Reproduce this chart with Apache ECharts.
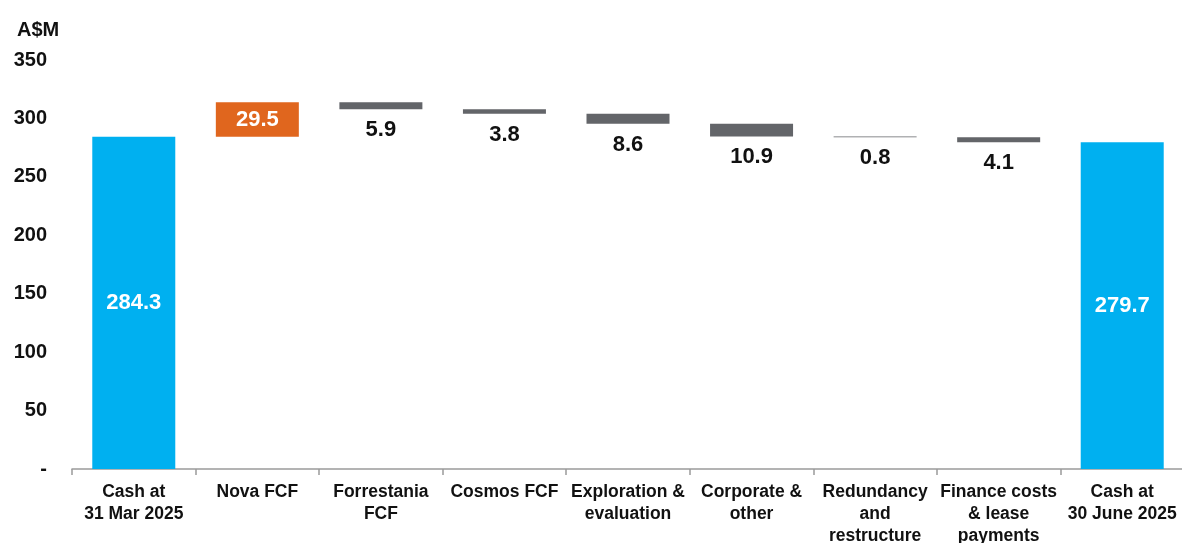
<!DOCTYPE html>
<html>
<head>
<meta charset="utf-8">
<script src="https://cdn.jsdelivr.net/npm/echarts@6/dist/echarts.min.js"></script>
<style>
html,body{margin:0;padding:0;background:#fff;}
#chart{width:1182px;height:543px;}
</style>
</head>
<body>
<div id="chart"></div>
<script>
const categories = ["Cash at\n31 Mar 2025", "Nova FCF", "Forrestania\nFCF", "Cosmos FCF", "Exploration &\nevaluation", "Corporate &\nother", "Redundancy\nand\nrestructure", "Finance costs\n& lease\npayments", "Cash at\n30 June 2025"];
const startCash = 284.3;
const changes = [29.5, -5.9, -3.8, -8.6, -10.9, -0.8, -4.1];
const endCash = 279.7;
const yTicks = [0, 50, 100, 150, 200, 250, 300, 350];

const BLUE = '#00B0F0', ORANGE = '#E0661E', GREY = '#636569';

// build waterfall
const base = [0];
const vis = [];
let running = startCash;
vis.push({value: startCash, itemStyle:{color: BLUE}, label:{show:true, position:'inside', color:'#fff'}});
changes.forEach(c => {
  if (c >= 0) {
    base.push(running);
    vis.push({value: c, itemStyle:{color: ORANGE}, label:{show:true, position:'inside', color:'#fff'}});
  } else {
    base.push(running + c);
    vis.push({value: -c, itemStyle:{color: GREY}, label:{show:true, position:'bottom', distance:10, color:'#111'}});
  }
  running += c;
});
base.push(0);
vis.push({value: endCash, itemStyle:{color: BLUE}, label:{show:true, position:'inside', color:'#fff'}});

const chart = echarts.init(document.getElementById('chart'));
chart.setOption({
  animation: false,
  title: {text: 'A$M', left: 12, top: 15, textStyle: {fontFamily: 'Liberation Sans, Arial', fontSize: 20, fontWeight: 'bold', color: '#111'}},
  grid: {left: 72, right: -2, top: 60, bottom: 74, outerBoundsMode: 'none', containLabel: false},
  xAxis: {
    type: 'category',
    data: categories,
    axisLine: {lineStyle: {color: '#9a9a9a', width: 1.5}},
    axisTick: {show: true, length: 6, lineStyle: {color: '#9a9a9a', width: 1.5}},
    axisLabel: {interval: 0, margin: 12, hideOverlap: false, fontFamily: 'Liberation Sans, Arial', fontSize: 17.5, fontWeight: 'bold', color: '#111', lineHeight: 22}
  },
  yAxis: {
    type: 'value',
    min: yTicks[0], max: yTicks[yTicks.length-1], interval: 50,
    splitLine: {show: false},
    axisLine: {show: false},
    axisTick: {show: false},
    axisLabel: {margin: 25, fontFamily: 'Liberation Sans, Arial', fontSize: 20, fontWeight: 'bold', color: '#111',
      formatter: v => v === 0 ? '-' : String(v)}
  },
  series: [
    {type: 'bar', stack: 'w', data: base, barWidth: 83, itemStyle: {color: 'transparent'}, silent: true},
    {type: 'bar', stack: 'w', data: vis, barWidth: 83,
     label: {fontFamily: 'Liberation Sans, Arial', fontSize: 22, fontWeight: 'bold', formatter: p => p.value.toFixed(1)}}
  ]
});
</script>
</body>
</html>
